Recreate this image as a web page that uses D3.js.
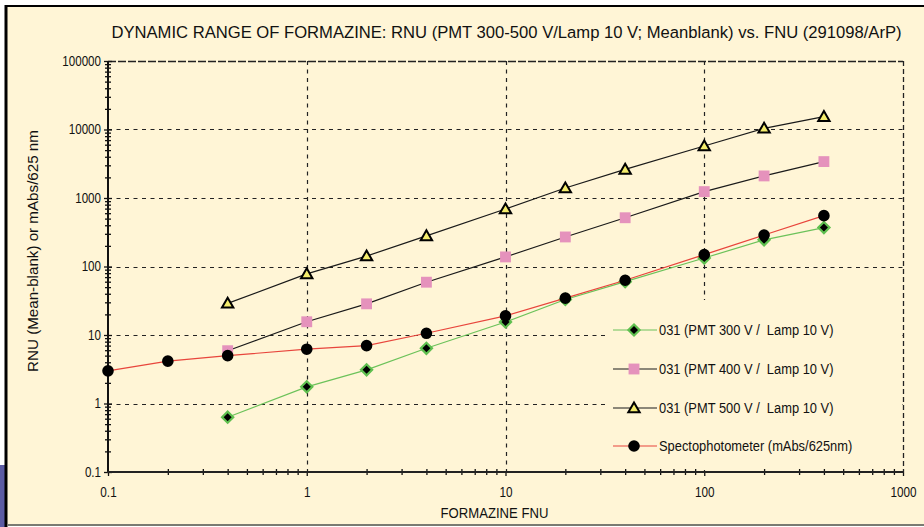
<!DOCTYPE html>
<html><head><meta charset="utf-8">
<script src="https://cdn.jsdelivr.net/npm/d3@7"></script>
<style>html,body{margin:0;padding:0;background:#fff;}svg{display:block;}text{white-space:pre;}</style>
</head><body>
<script>
// ---- data ----
const pmtX = [0.4, 1, 2, 4, 10, 20, 40, 100, 200, 400];
const pmt300 = [0.63, 1.75, 3.1, 6.4, 15.5, 33, 60, 133, 245, 370];
const pmt400 = [5.9, 15.6, 28.5, 59, 138, 270, 515, 1240, 2100, 3400];
const pmt500 = [29, 78, 142, 280, 690, 1400, 2620, 5750, 10400, 15400];
const spectroX = [0.1, 0.2, 0.4, 1, 2, 4, 10, 20, 40, 100, 200, 400];
const spectro = [3.0, 4.15, 5.0, 6.2, 7.0, 10.6, 19, 34.5, 63, 149, 288, 552];
const seriesNames = ["031 (PMT 300 V /  Lamp 10 V)", "031 (PMT 400 V /  Lamp 10 V)", "031 (PMT 500 V /  Lamp 10 V)", "Spectophotometer (mAbs/625nm)"];
const xTickValues = [0.1, 1, 10, 100, 1000];
const xTickLabels = ["0.1", "1", "10", "100", "1000"];
const yTickValues = [0.1, 1, 10, 100, 1000, 10000, 100000];
const yTickLabels = ["0.1", "1", "10", "100", "1000", "10000", "100000"];
const title = "DYNAMIC RANGE OF FORMAZINE: RNU (PMT 300-500 V/Lamp 10 V; Meanblank) vs. FNU (291098/ArP)";
const xTitle = "FORMAZINE FNU";
const yTitle = "RNU (Mean-blank) or mAbs/625 nm";

// ---- layout ----
const W = 924, H = 527;
const L = 108, R = 903, T = 61, B = 472;
const BG = "#fff5d6";
const FONT = "'Liberation Sans', Arial, sans-serif";

const svg = d3.select("body").append("svg").attr("width", W).attr("height", H);
svg.append("rect").attr("width", W).attr("height", H).attr("fill", "#fff");
svg.append("rect").attr("x", 0).attr("y", 465).attr("width", 7).attr("height", 62).attr("fill", "#5b5ba3");
svg.append("rect").attr("x", 6).attr("y", 6).attr("width", W - 6).attr("height", 518).attr("fill", BG);
svg.append("line").attr("x1", 6).attr("x2", W).attr("y1", 6).attr("y2", 6).attr("stroke", "#000").attr("stroke-width", 2);
svg.append("line").attr("x1", 6).attr("x2", 6).attr("y1", 5).attr("y2", H).attr("stroke", "#000").attr("stroke-width", 3);
svg.append("line").attr("x1", 7).attr("x2", W).attr("y1", 525).attr("y2", 525).attr("stroke", "#7a7a72").attr("stroke-width", 2);

const x = d3.scaleLog().domain([0.1, 1000]).range([L, R]);
const y = d3.scaleLog().domain([0.1, 100000]).range([B, T]);

// text drawn with a horizontal squeeze to imitate the condensed original face;
// if targetW is given the squeeze is chosen so the text spans that width
function label(txt, px, py, size, anchor, rot, sx, targetW) {
  const g = svg.append("g");
  const t = g.append("text").text(txt).attr("font-family", FONT).attr("font-size", size)
    .attr("text-anchor", anchor).attr("fill", "#111");
  let s = sx;
  if (targetW) s = targetW / t.node().getComputedTextLength();
  g.attr("transform", `translate(${px},${py})` + (rot ? ` rotate(${rot})` : "") + ` scale(${s},1)`);
  return t;
}

label(title, (L + R) / 2 + 1, 37.5, 17, "middle", 0, 1, 791);
label(xTitle, (L + R) / 2 - 11, 518, 15.5, "middle", 0, 1, 108);
label(yTitle, 38, 251, 15, "middle", -90, 1, 242);

// gridlines
const grid = svg.append("g").attr("stroke", "#222").attr("stroke-width", 1.2).attr("stroke-dasharray", "4,4.5");
grid.selectAll(".h").data(yTickValues.slice(1, -1)).join("line")
  .attr("x1", L).attr("x2", R).attr("y1", d => Math.round(y(d)) + 0.5).attr("y2", d => Math.round(y(d)) + 0.5);
grid.selectAll(".v").data(xTickValues.slice(1, -1)).join("line")
  .attr("y1", T).attr("y2", B).attr("x1", d => Math.round(x(d)) + 0.5).attr("x2", d => Math.round(x(d)) + 0.5);

// legend box (covers gridlines)
const LG = { x: 608, y: 300, w: R - 608 - 1, h: B - 300 - 2 };
svg.append("rect").attr("x", LG.x).attr("y", LG.y).attr("width", LG.w).attr("height", LG.h).attr("fill", BG);

// plot border top/right
svg.append("line").attr("x1", L).attr("x2", R).attr("y1", T + 0.5).attr("y2", T + 0.5).attr("stroke", "#222").attr("stroke-width", 1.3).attr("stroke-dasharray", "8,2");
svg.append("line").attr("x1", R + 0.5).attr("x2", R + 0.5).attr("y1", T).attr("y2", B).attr("stroke", "#222").attr("stroke-width", 1.3).attr("stroke-dasharray", "5,3");

// axes
function minors(lo, hi) {
  const out = [];
  for (let e = lo; e < hi; e++) for (let k = 2; k <= 9; k++) out.push(k * Math.pow(10, e));
  return out;
}
const yMin = minors(-1, 5), xMin = minors(-1, 3);
function styleAxis(g) {
  g.select(".domain").remove();
  g.selectAll("line").attr("stroke", "#111").attr("stroke-width", 1.3);
}
const TSX = 0.84;
svg.append("g").attr("transform", `translate(${L},0)`).call(d3.axisLeft(y).tickValues(yMin).tickSize(3).tickFormat("")).call(styleAxis);
svg.append("g").attr("transform", `translate(${L},0)`).call(d3.axisRight(y).tickValues(yMin).tickSize(3).tickFormat("")).call(styleAxis);
svg.append("g").attr("transform", `translate(${L},0)`).call(d3.axisRight(y).tickValues(yTickValues).tickSize(4).tickFormat("")).call(styleAxis);
const yAx = svg.append("g").attr("transform", `translate(${L},0)`)
  .call(d3.axisLeft(y).tickValues(yTickValues).tickSize(4).tickPadding(3).tickFormat((d, i) => yTickLabels[i])).call(styleAxis);
yAx.selectAll("text").attr("font-family", FONT).attr("font-size", 13.8).attr("fill", "#111")
  .attr("transform", `scale(${TSX},1)`).attr("x", -7 / TSX);

svg.append("g").attr("transform", `translate(0,${B})`).call(d3.axisBottom(x).tickValues(xMin).tickSize(3).tickFormat("")).call(styleAxis);
svg.append("g").attr("transform", `translate(0,${B})`).call(d3.axisTop(x).tickValues(xMin).tickSize(3).tickFormat("")).call(styleAxis);
const xAx = svg.append("g").attr("transform", `translate(0,${B})`)
  .call(d3.axisBottom(x).tickValues(xTickValues).tickSize(4).tickPadding(11).tickFormat((d, i) => xTickLabels[i])).call(styleAxis);
xAx.selectAll(".tick text").attr("font-family", FONT).attr("font-size", 14).attr("fill", "#111")
  .attr("transform", `scale(${TSX},1)`);

svg.append("line").attr("x1", L).attr("x2", L).attr("y1", T).attr("y2", B + 1).attr("stroke", "#111").attr("stroke-width", 2);
svg.append("line").attr("x1", L - 1).attr("x2", R + 1).attr("y1", B).attr("y2", B).attr("stroke", "#222").attr("stroke-width", 2.2);

// series
const series = [
  { xs: pmtX, ys: pmt300, line: "#6cc25a", sym: "diamond" },
  { xs: pmtX, ys: pmt400, line: "#1a1a1a", sym: "square" },
  { xs: pmtX, ys: pmt500, line: "#1a1a1a", sym: "triangle" },
  { xs: spectroX, ys: spectro, line: "#e8453c", sym: "circle" }
];
function drawMarker(g, sym) {
  if (sym === "diamond") {
    g.append("path").attr("d", d3.symbol(d3.symbolSquare, 62)()).attr("transform", "rotate(45)")
      .attr("fill", "#000").attr("stroke", "#5fbf4f").attr("stroke-width", 2.2);
  } else if (sym === "square") {
    g.append("path").attr("d", d3.symbol(d3.symbolSquare, 118)()).attr("fill", "#e592bc");
  } else if (sym === "triangle") {
    g.append("path").attr("d", d3.symbol(d3.symbolTriangle, 56)()).attr("transform", "translate(0,1)")
      .attr("fill", "#f4ec6c").attr("stroke", "#000").attr("stroke-width", 2).attr("stroke-linejoin", "miter");
  } else {
    g.append("path").attr("d", d3.symbol(d3.symbolCircle, 106)()).attr("fill", "#000");
  }
}
const lineGen = d3.line().x(d => x(d[0])).y(d => y(d[1]));
series.forEach(s => {
  const pts = s.xs.map((v, i) => [v, s.ys[i]]);
  svg.append("path").attr("d", lineGen(pts)).attr("fill", "none").attr("stroke", s.line).attr("stroke-width", 1.2);
  pts.forEach(p => drawMarker(svg.append("g").attr("transform", `translate(${x(p[0])},${y(p[1])})`), s.sym));
});

// legend
const legY = [330, 369, 408, 446];
series.forEach((s, i) => {
  svg.append("line").attr("x1", 613).attr("x2", 657).attr("y1", legY[i]).attr("y2", legY[i]).attr("stroke", s.line).attr("stroke-width", 1.2);
  drawMarker(svg.append("g").attr("transform", `translate(634,${legY[i]})`), s.sym);
  label(seriesNames[i], 659, legY[i] + 5, 15, "start", 0, 0.86);
});
</script>
</body></html>
